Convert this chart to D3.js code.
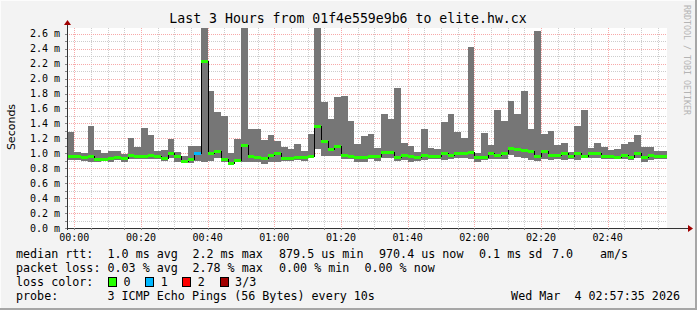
<!DOCTYPE html>
<html>
<head>
<meta charset="utf-8">
<script src="https://d3js.org/d3.v7.min.js"></script>
<style>
html, body { margin: 0; padding: 0; background: #f3f3f3; }
svg { display: block; }
text { font-family: "DejaVu Sans Mono", monospace; fill: #000; white-space: pre; }
</style>
</head>
<body>
<svg id="chart"></svg>
<script>
// one value per 2 minute step, starting 23:58
const maxMs = [
  1.29, 1.02, 1.01, 1.36, 1.04, 1.01, 1.03, 1.03, 0.99, 1.21,
  1.08, 1.34, 1.25, 1.03, 1.04, 1.19, 1.02, 0.96, 1.10, 1.10,
  3.40, 1.83, 1.55, 1.50, 1.01, 1.19, 3.10, 1.33, 1.33, 1.18,
  1.25, 1.17, 1.08, 1.06, 1.13, 1.03, 1.26, 3.20, 1.69, 1.46,
  1.75, 1.77, 1.43, 1.13, 1.23, 1.26, 1.07, 1.53, 1.46, 1.875,
  1.14, 1.10, 1.02, 1.33, 1.07, 1.06, 1.42, 1.53, 1.28, 1.21,
  2.42, 1.00, 1.27, 1.11, 1.58, 1.43, 1.70, 1.53, 1.83, 1.33,
  2.64, 1.26, 1.30, 1.11, 1.14, 1.02, 1.37, 1.58, 1.07, 1.14,
  1.085, 1.045, 1.06, 1.125, 1.15, 1.245, 1.085, 1.085, 1.03, 1.03
];
const minMs = [
  0.91, 0.91, 0.90, 0.89, 0.89, 0.90, 0.89, 0.91, 0.89, 0.93,
  0.93, 0.92, 0.92, 0.93, 0.90, 0.94, 0.89, 0.88, 0.87, 0.90,
  0.89, 0.90, 0.94, 0.88, 0.85, 0.88, 0.89, 0.89, 0.88, 0.85,
  0.89, 0.89, 0.90, 0.90, 0.91, 0.90, 0.94, 1.06, 0.97, 0.97,
  0.97, 0.92, 0.92, 0.88, 0.88, 0.92, 0.90, 0.94, 0.94, 0.90,
  0.91, 0.89, 0.90, 0.91, 0.92, 0.92, 0.91, 0.92, 0.94, 0.94,
  0.92, 0.89, 0.91, 0.92, 0.92, 0.93, 0.98, 0.955, 0.94, 0.91,
  0.90, 0.93, 0.91, 0.92, 0.91, 0.93, 0.91, 0.94, 0.94, 0.94,
  0.93, 0.93, 0.92, 0.93, 0.91, 0.94, 0.89, 0.91, 0.92, 0.92
];
const medianMs = [
  0.96, 0.96, 0.95, 0.96, 0.92, 0.92, 0.94, 0.95, 0.94, 0.98,
  0.96, 0.96, 0.98, 0.96, 0.94, 1.00, 0.97, 0.90, 0.92, 1.01,
  2.23, 1.00, 1.03, 0.93, 0.875, 0.915, 1.11, 0.96, 0.95, 0.94,
  0.98, 1.01, 0.94, 0.94, 0.95, 0.95, 0.96, 1.37, 1.165, 1.06,
  1.10, 0.98, 0.96, 0.95, 0.95, 0.96, 0.96, 1.02, 1.02, 0.95,
  0.98, 0.97, 0.95, 0.98, 0.96, 0.96, 1.01, 0.98, 1.00, 1.00,
  1.02, 0.95, 0.95, 1.00, 0.98, 1.00, 1.07, 1.06, 1.05, 1.03,
  0.96, 1.03, 0.98, 0.98, 1.01, 0.96, 1.01, 0.96, 1.00, 1.01,
  0.96, 0.96, 0.95, 0.98, 0.95, 1.01, 0.95, 0.98, 0.96, 0.96
];
const lossCount = [
  0, 0, 0, 0, 0, 0, 0, 0, 0, 0,
  0, 0, 0, 0, 0, 0, 0, 0, 0, 1,
  0, 0, 0, 0, 0, 0, 0, 0, 0, 0,
  0, 0, 0, 0, 0, 0, 0, 0, 0, 0,
  0, 0, 0, 0, 0, 0, 0, 0, 0, 0,
  0, 0, 0, 0, 0, 0, 0, 0, 0, 0,
  0, 0, 0, 0, 0, 0, 0, 0, 0, 0,
  0, 0, 0, 0, 0, 0, 0, 0, 0, 0,
  0, 0, 0, 0, 0, 0, 0, 0, 0, 0
];
const firstBar = new Date(2026, 2, 3, 23, 58, 0);
const stepMinutes = 2;

const yTicks = [0, 0.2, 0.4, 0.6, 0.8, 1.0, 1.2, 1.4, 1.6, 1.8, 2.0, 2.2, 2.4, 2.6];
const xTickLabels = ['00:00', '00:20', '00:40', '01:00', '01:20', '01:40', '02:00', '02:20', '02:40'];

const lossLabels = ['0', '1', '2', '3/3'];
const lossColors = ['#26ff00', '#00b8ff', '#ff0000', '#a10000'];

const rttStats = ['1.0 ms avg', '2.2 ms max', '879.5 us min', '970.4 us now', '0.1 ms sd', '7.0', 'am/s'];
const lossStats = ['0.03 % avg', '2.78 % max', '0.00 % min', '0.00 % now'];

const title = 'Last 3 Hours from 01f4e559e9b6 to elite.hw.cx';
const probeText = '3 ICMP Echo Pings (56 Bytes) every 10s';
const stampText = 'Wed Mar  4 02:57:35 2026';

const W = 697, H = 310;
const pL = 67, pR = 667, pT = 28, pB = 228;

const svg = d3.select('#chart').attr('width', W).attr('height', H);

svg.append('rect').attr('width', W).attr('height', H).attr('fill', '#f3f3f3');
// frame shading
svg.append('line').attr('x1', 0).attr('y1', 0.5).attr('x2', W).attr('y2', 0.5).attr('stroke', '#fcfcfc');
svg.append('line').attr('x1', 0.5).attr('y1', 0).attr('x2', 0.5).attr('y2', H).attr('stroke', '#fcfcfc');
svg.append('rect').attr('x', W - 2).attr('y', 0).attr('width', 2).attr('height', H).attr('fill', '#a6a6a6');
svg.append('rect').attr('x', 0).attr('y', H - 2).attr('width', W).attr('height', 2).attr('fill', '#a6a6a6');

const t0 = new Date(2026, 2, 3, 23, 57, 49);
const t1 = d3.timeHour.offset(t0, 3);
const x = d3.scaleTime().domain([t0, t1]).range([pL, pR]);
const y = d3.scaleLinear().domain([0, 2.677]).range([pB, pT]);

const bars = maxMs.map((mx, i) => {
  const start = d3.timeMinute.offset(firstBar, i * stepMinutes);
  return {
    start: start,
    end: d3.timeMinute.offset(start, stepMinutes),
    max: mx, min: minMs[i], med: medianMs[i], loss: lossCount[i]
  };
});

svg.append('rect')
  .attr('x', pL).attr('y', pT)
  .attr('width', pR - pL).attr('height', pB - pT)
  .attr('fill', '#fff');

svg.append('clipPath').attr('id', 'plotclip')
  .append('rect').attr('x', pL).attr('y', pT)
  .attr('width', pR - pL).attr('height', pB - pT);

// grid
const grid = svg.append('g').attr('shape-rendering', 'crispEdges');
const minorX = x.ticks(d3.timeMinute.every(5));
const majorX = x.ticks(d3.timeMinute.every(20));
const majorSet = new Set(majorX.map(d => +d));
const minorCol = '#cdcdcd', majorCol = '#f7a9a9';

grid.selectAll('.vminor')
  .data(minorX.filter(d => !majorSet.has(+d)))
  .enter().append('line')
  .attr('x1', d => Math.round(x(d)) + 0.5).attr('x2', d => Math.round(x(d)) + 0.5)
  .attr('y1', pT).attr('y2', pB)
  .attr('stroke', minorCol).attr('stroke-dasharray', '1,1');

const yMinor = d3.range(1, 27).map(k => k / 10).filter(v => Math.round(v * 10) % 2 === 1);
grid.selectAll('.hminor')
  .data(yMinor)
  .enter().append('line')
  .attr('x1', pL).attr('x2', pR)
  .attr('y1', d => Math.round(y(d)) + 0.5).attr('y2', d => Math.round(y(d)) + 0.5)
  .attr('stroke', minorCol).attr('stroke-dasharray', '1,1');

grid.selectAll('.vmajor')
  .data(majorX)
  .enter().append('line')
  .attr('x1', d => Math.round(x(d)) + 0.5).attr('x2', d => Math.round(x(d)) + 0.5)
  .attr('y1', pT).attr('y2', pB)
  .attr('stroke', majorCol).attr('stroke-dasharray', '1,1');

grid.selectAll('.hmajor')
  .data(yTicks.filter(v => v > 0))
  .enter().append('line')
  .attr('x1', pL).attr('x2', pR)
  .attr('y1', d => Math.round(y(d)) + 0.5).attr('y2', d => Math.round(y(d)) + 0.5)
  .attr('stroke', majorCol).attr('stroke-dasharray', '1,1');

// smoke
const plot = svg.append('g').attr('clip-path', 'url(#plotclip)').attr('shape-rendering', 'crispEdges');

plot.selectAll('.smoke')
  .data(bars)
  .enter().append('rect')
  .attr('x', d => Math.round(x(d.start)))
  .attr('width', d => Math.round(x(d.end)) - Math.round(x(d.start)))
  .attr('y', d => Math.round(y(d.max)))
  .attr('height', d => Math.round(y(d.min)) - Math.round(y(d.max)))
  .attr('fill', '#767676');

// median: black steps, coloured flats
const stepPts = bars.map(d => [x(d.start), y(d.med)]);
stepPts.push([x(bars[bars.length - 1].end), y(bars[bars.length - 1].med)]);
plot.append('path')
  .attr('d', d3.line().curve(d3.curveStepAfter)(stepPts.map(p => [Math.round(p[0]) + 0.5, Math.round(p[1]) + 0.5])))
  .attr('fill', 'none').attr('stroke', '#000').attr('stroke-width', 1);

plot.selectAll('.med')
  .data(bars)
  .enter().append('rect')
  .attr('x', d => Math.round(x(d.start)))
  .attr('width', d => Math.round(x(d.end)) - Math.round(x(d.start)))
  .attr('y', d => Math.round(y(d.med)) - 1)
  .attr('height', 3)
  .attr('fill', d => lossColors[d.loss]);

// axes
const axes = svg.append('g').attr('shape-rendering', 'crispEdges');
axes.append('line').attr('x1', pL - 2).attr('x2', 688).attr('y1', pB + 0.5).attr('y2', pB + 0.5).attr('stroke', '#333');
axes.append('line').attr('x1', pL + 0.5).attr('x2', pL + 0.5).attr('y1', pB + 2).attr('y2', 24).attr('stroke', '#333');
svg.append('path').attr('d', `M688,${pB - 3}L693,${pB + 0.5}L688,${pB + 4}Z`).attr('fill', '#a00000');
svg.append('path').attr('d', `M${pL - 3},25L${pL + 0.5},20L${pL + 4},25Z`).attr('fill', '#a00000');

// small ticks on axes
axes.selectAll('.ytk')
  .data(d3.range(0, 27).map(k => k / 10))
  .enter().append('line')
  .attr('x1', pL - 2).attr('x2', pL)
  .attr('y1', d => Math.round(y(d)) + 0.5).attr('y2', d => Math.round(y(d)) + 0.5)
  .attr('stroke', '#888');
axes.selectAll('.xtk')
  .data(minorX)
  .enter().append('line')
  .attr('x1', d => Math.round(x(d)) + 0.5).attr('x2', d => Math.round(x(d)) + 0.5)
  .attr('y1', pB).attr('y2', pB + 2)
  .attr('stroke', '#888');

// tick labels
svg.append('g').selectAll('text')
  .data(yTicks)
  .enter().append('text')
  .attr('x', 60).attr('y', d => y(d) + 3.6)
  .attr('text-anchor', 'end').attr('font-size', 10)
  .text(d => d.toFixed(1) + ' m');

const xFmt = d3.timeFormat('%H:%M');
svg.append('g').selectAll('text')
  .data(majorX.filter(d => xTickLabels.includes(xFmt(d))))
  .enter().append('text')
  .attr('x', d => x(d)).attr('y', 241)
  .attr('text-anchor', 'middle').attr('font-size', 10)
  .text(d => xFmt(d));

// titles
svg.append('text').attr('x', 348).attr('y', 23.3)
  .attr('text-anchor', 'middle').attr('font-size', 13.2)
  .text(title);

svg.append('text')
  .attr('transform', 'translate(15,127) rotate(-90)')
  .attr('text-anchor', 'middle').attr('font-size', 11)
  .style('font-family', '"DejaVu Sans", sans-serif')
  .text('Seconds');

svg.append('text')
  .attr('transform', 'translate(684,5) rotate(90)')
  .attr('font-size', 8.3).style('fill', '#b4b4b4')
  .text('RRDTOOL / TOBI OETIKER');

// legend
const lg = svg.append('g').attr('font-size', 11.7);
const row1 = [16, 107.5, 192.4, 279, 379, 479, 552, 600];
lg.selectAll('.r1')
  .data(['median rtt:'].concat(rttStats))
  .enter().append('text')
  .attr('x', (d, i) => row1[i]).attr('y', 258)
  .text(d => d);

const row2 = [16, 107.5, 192.4, 279, 364.4];
lg.selectAll('.r2')
  .data(['packet loss:'].concat(lossStats))
  .enter().append('text')
  .attr('x', (d, i) => row2[i]).attr('y', 272)
  .text(d => d);

lg.append('text').attr('x', 16).attr('y', 286).text('loss color:');
const boxX = [108, 145.3, 182.2, 219.6];
lg.selectAll('.sw')
  .data(lossColors)
  .enter().append('rect')
  .attr('x', (d, i) => Math.round(boxX[i]) + 0.5).attr('y', 277.5)
  .attr('width', 8).attr('height', 9)
  .attr('fill', d => d).attr('stroke', '#000');
lg.selectAll('.swl')
  .data(lossLabels)
  .enter().append('text')
  .attr('x', (d, i) => boxX[i] + 15.5).attr('y', 286)
  .text(d => d);

lg.append('text').attr('x', 16).attr('y', 300).text('probe:');
lg.append('text').attr('x', 107.5).attr('y', 300).text(probeText);
lg.append('text').attr('x', 680).attr('y', 300).attr('text-anchor', 'end').text(stampText);
</script>
</body>
</html>
